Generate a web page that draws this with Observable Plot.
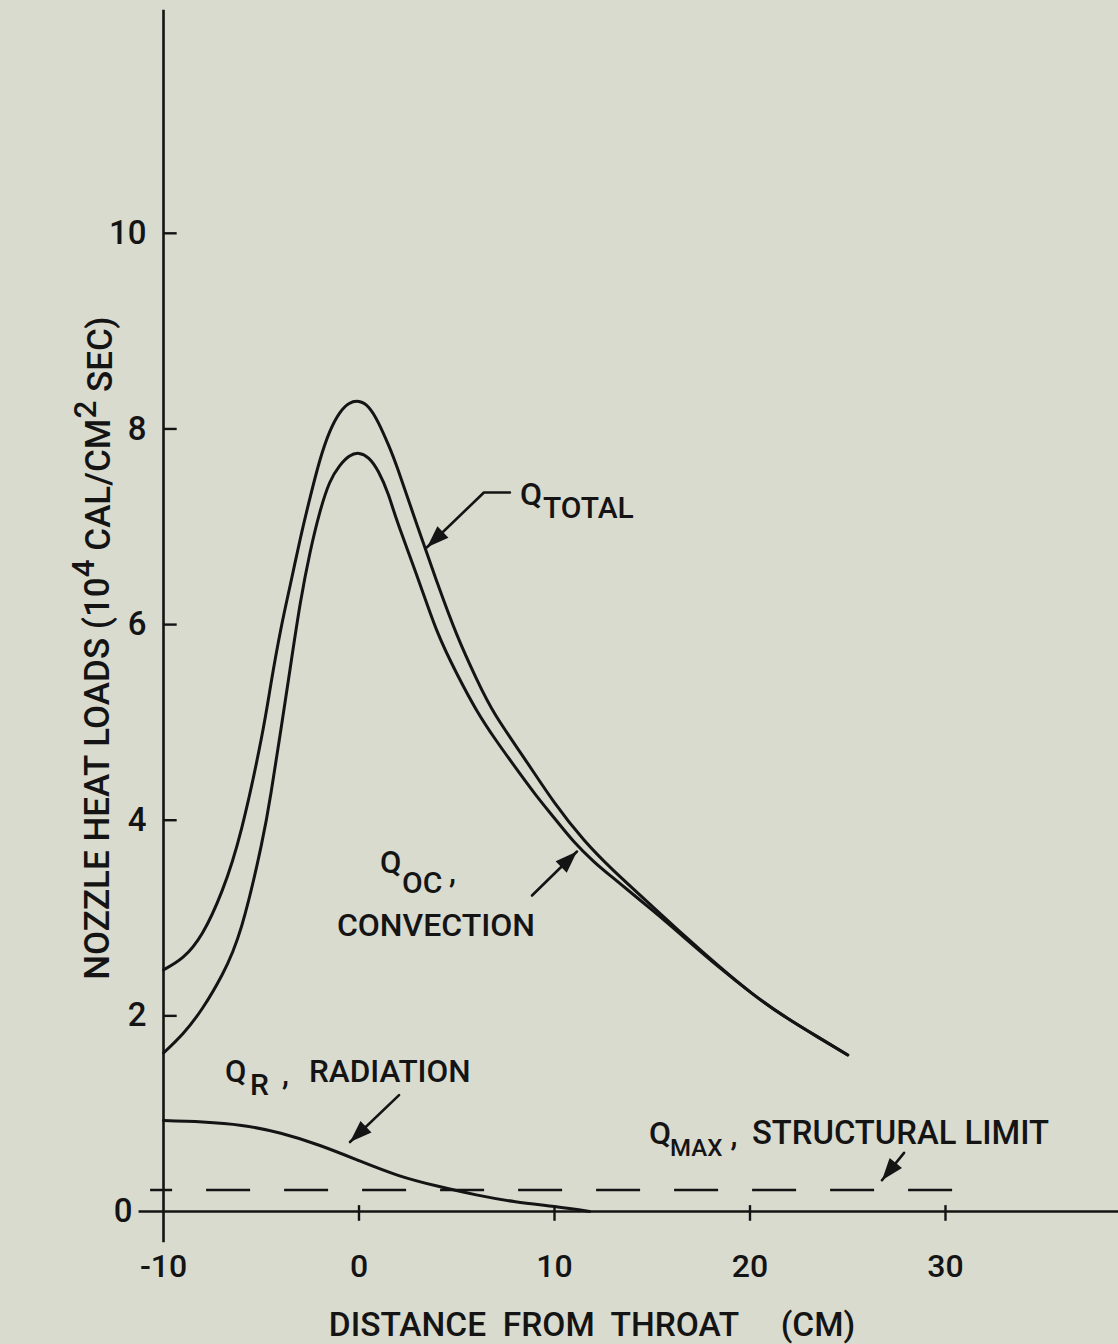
<!DOCTYPE html>
<html><head><meta charset="utf-8">
<script src="https://cdn.jsdelivr.net/npm/d3@7"></script>
<script src="https://cdn.jsdelivr.net/npm/@observablehq/plot@0.6"></script>
<style>
html,body{margin:0;padding:0;background:#d9dbcf;overflow:hidden;}
#chart svg{display:block;}
</style></head><body><div id="chart"></div>
<script>
// ---- data ----
const totalX = [-10, -9, -8, -7, -6, -5, -4.5, -4, -3.5, -3, -2.5, -2, -1.5, -1, -0.5, 0, 0.5, 1, 1.5, 2, 3, 4, 5, 6, 7, 8.5, 10, 11.5, 13, 15, 16.7, 18.4, 20.1, 21.8, 23.5, 25];
const totalY = [2.47, 2.6, 2.85, 3.28, 3.92, 4.83, 5.4, 5.95, 6.42, 6.88, 7.3, 7.68, 7.97, 8.16, 8.26, 8.28, 8.22, 8.06, 7.84, 7.58, 7.0, 6.43, 5.9, 5.45, 5.07, 4.62, 4.18, 3.8, 3.49, 3.12, 2.81, 2.51, 2.23, 1.99, 1.78, 1.6];
const convX = [-10, -9, -8, -7, -6, -5, -4.5, -4, -3.5, -3, -2.5, -2, -1.5, -1, -0.5, 0, 0.5, 1, 1.5, 2, 3, 4, 5, 6, 7, 8, 9, 10, 11, 12, 13, 15, 16.7, 18.4, 20.1, 21.8, 23.5, 25];
const convY = [1.62, 1.82, 2.08, 2.42, 2.92, 3.74, 4.28, 4.92, 5.58, 6.22, 6.74, 7.15, 7.45, 7.62, 7.72, 7.75, 7.7, 7.56, 7.33, 7.03, 6.48, 5.93, 5.5, 5.13, 4.82, 4.54, 4.27, 4.02, 3.78, 3.58, 3.41, 3.08, 2.79, 2.5, 2.23, 1.99, 1.78, 1.6];
const radX = [-10, -8, -6, -4, -2, 0, 2, 4, 6, 8, 10, 11.8];
const radY = [0.93, 0.915, 0.88, 0.80, 0.675, 0.52, 0.37, 0.26, 0.17, 0.10, 0.05, 0.0];
const qMax = 0.22;
const qMaxRange = [-10.66, 30.95];
const xTicks = [-10, 0, 10, 20, 30];
const xTickLabels = ["-10", "0", "10", "20", "30"];
const yTicks = [0, 2, 4, 6, 8, 10];
const yTickLabels = ["0", "2", "4", "6", "8", "10"];
const xTitle = "DISTANCE\u00a0 FROM\u00a0 THROAT\u00a0\u00a0\u00a0\u00a0 (CM)";

// ---- annotations (data coordinates) ----
const arrows = [
  {id: "total", pts: [[7.72, 7.35], [6.39, 7.35], [3.48, 6.79]]},
  {id: "oc", pts: [[8.85, 3.23], [11.15, 3.68]]},
  {id: "r", pts: [[2.05, 1.19], [-0.46, 0.71]]},
  {id: "max", pts: [[27.88, 0.60], [26.75, 0.32]]}
];
const labels = [
  {x: 8.24, y: 7.22, t: "Q", s: 32},
  {x: 9.41, y: 7.09, t: "TOTAL", s: 30},
  {x: 1.07, y: 3.46, t: "Q", s: 31},
  {x: 2.2, y: 3.26, t: "OC", s: 30},
  {x: 4.6, y: 3.36, t: ",", s: 31},
  {x: -1.13, y: 2.82, t: "CONVECTION", s: 32},
  {x: -6.85, y: 1.32, t: "Q", s: 31},
  {x: -5.58, y: 1.19, t: "R", s: 30},
  {x: -3.94, y: 1.29, t: ",", s: 31},
  {x: -2.56, y: 1.32, t: "RADIATION", s: 31.5},
  {x: 14.83, y: 0.695, t: "Q", s: 32},
  {x: 15.91, y: 0.57, t: "MAX", s: 24},
  {x: 19.0, y: 0.67, t: ",", s: 31},
  {x: 20.1, y: 0.695, t: "STRUCTURAL LIMIT", s: 32.8}
];

// ---- layout ----
const W = 1118, H = 1344, mL = 163, mB = 133;
const xDomain = [-10, 38.85], yDomain = [0, 12.38];
const kx = (W - mL) / (xDomain[1] - xDomain[0]);
const ky = (H - mB) / (yDomain[1] - yDomain[0]);

const toRows = (xs, ys) => xs.map((x, i) => ({x, y: ys[i]}));
const shafts = arrows.flatMap(a => a.pts.map(([x, y]) => ({id: a.id, x, y})));
const heads = arrows.map(a => {
  const n = a.pts.length, [x0, y0] = a.pts[n - 2], [x1, y1] = a.pts[n - 1];
  const dx = (x1 - x0) * kx, dy = -(y1 - y0) * ky;
  return {x: x1, y: y1, a: Math.atan2(dx, -dy) * 180 / Math.PI};
});
const arrowHead = {draw(ctx, size) {
  const r = Math.sqrt(size / Math.PI), L = 2.6 * r, w = 0.36 * L;
  ctx.moveTo(0, 0); ctx.lineTo(w, L); ctx.lineTo(-w, L); ctx.closePath();
}};
const ink = "#141414";
const font = "Roboto, 'Liberation Sans', Arial, sans-serif";
const fw = 500;

const plot = Plot.plot({
  width: W, height: H,
  marginLeft: mL, marginRight: 0, marginTop: 0, marginBottom: mB,
  x: {domain: xDomain, axis: null},
  y: {domain: yDomain, axis: null},
  style: {background: "transparent", color: ink, fontFamily: font},
  marks: [
    // axes
    Plot.ruleY([0], {x1: -11.25, x2: xDomain[1], stroke: ink, strokeWidth: 2.6}),
    Plot.ruleX([-10], {y1: -0.32, y2: 12.28, stroke: ink, strokeWidth: 2.6}),
    Plot.ruleX(xTicks.filter(d => d > -10), {y1: -0.1, y2: 0.06, stroke: ink, strokeWidth: 2.4}),
    Plot.ruleY(yTicks.filter(d => d > 0), {x1: -10, x2: -9.3, stroke: ink, strokeWidth: 2.4}),
    Plot.text(xTicks, {x: d => d, y: 0, text: (d, i) => xTickLabels[i], dy: 55, lineAnchor: "middle", fontSize: 32, fontWeight: fw}),
    Plot.text(yTicks.filter(d => d > 0), {x: -10, y: d => d, text: d => yTickLabels[yTicks.indexOf(d)], dx: -17, textAnchor: "end", lineAnchor: "middle", fontSize: 33, fontWeight: fw}),
    Plot.text([0], {x: -10, y: 0, text: d => yTickLabels[0], dx: -31, textAnchor: "end", lineAnchor: "middle", fontSize: 33, fontWeight: fw}),
    Plot.text([xTitle], {x: 11.92, y: 0, text: d => d, dy: 124, lineAnchor: "bottom", fontSize: 33.5, fontWeight: fw}),
    Plot.text(["NOZZLE HEAT LOADS"], {x: -13.38, y: 5.76, text: d => d, rotate: -90, lineAnchor: "middle", fontSize: 35, fontWeight: fw, className: "ylab"}),
    // structural limit
    Plot.ruleY([qMax], {x1: qMaxRange[0], x2: qMaxRange[1], stroke: ink, strokeWidth: 2.6, strokeDasharray: "44,34", strokeDashoffset: 22}),
    // curves
    Plot.line(toRows(totalX, totalY), {x: "x", y: "y", curve: "natural", stroke: ink, strokeWidth: 3}),
    Plot.line(toRows(convX, convY), {x: "x", y: "y", curve: "natural", stroke: ink, strokeWidth: 3}),
    Plot.line(toRows(radX, radY), {x: "x", y: "y", curve: "natural", stroke: ink, strokeWidth: 3}),
    // annotations
    Plot.line(shafts, {x: "x", y: "y", z: "id", stroke: ink, strokeWidth: 2.6}),
    Plot.dot(heads, {x: "x", y: "y", rotate: "a", symbol: arrowHead, r: 8.5, fill: ink, stroke: "none"}),
    Plot.text(labels, {x: "x", y: "y", text: "t", fontSize: "s", fontWeight: fw, textAnchor: "start", lineAnchor: "bottom"})
  ]
});
document.getElementById("chart").appendChild(plot);

// y-axis title with raised exponents
const yl = d3.select(plot).select(".ylab text");
yl.text(null);
yl.append("tspan").text("NOZZLE HEAT LOADS (10");
yl.append("tspan").attr("dy", "-0.45em").attr("font-size", "0.9em").text("4");
yl.append("tspan").attr("dy", "0.45em").text(" CAL/CM");
yl.append("tspan").attr("dy", "-0.45em").attr("font-size", "0.9em").text("2");
yl.append("tspan").attr("dy", "0.45em").text(" SEC)");
</script>
</body></html>
